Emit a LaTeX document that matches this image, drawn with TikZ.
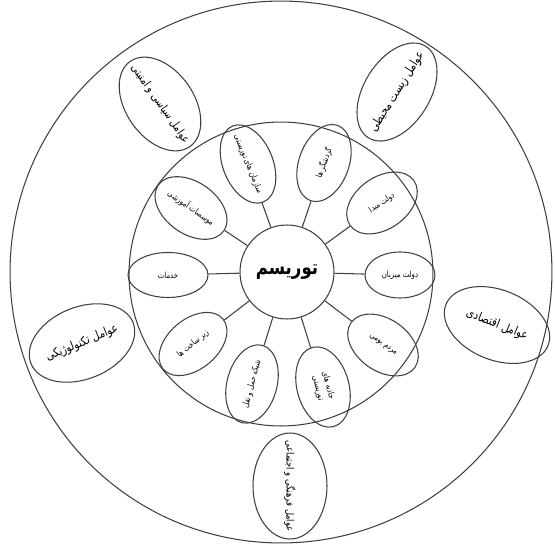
\documentclass[tikz,border=0pt]{standalone}
\usepackage{fontspec}
\usepackage{graphicx}
\usepackage{tikz}
\usetikzlibrary{shapes.geometric, positioning}
\newfontfamily\fa[Script=Arabic]{DejaVu Sans}
\TeXXeTstate=1
\newcommand{\fatxt}[1]{{\fa\scalebox{0.82}[1]{\beginR #1\endR}}}

\tikzset{
    vong/.style={draw=black!75, line width=0.6pt},
    oval/.style={ellipse, draw=black!75, line width=0.6pt, inner sep=0pt,
        font=\fontsize{4.8}{5.8}\selectfont},
}

\begin{document}
\begin{tikzpicture}[x=0.02cm, y=-0.02cm]
    \useasboundingbox (0,0) rectangle (555,545);
    
    % Hai vòng tròn lớn
    \node[vong, circle, minimum size=10.84cm, inner sep=0pt] (ngoai) at (281,272) {};
    \node[vong, circle, minimum size=6.08cm, inner sep=0pt] (trong) at (281,274) {};
    
    % Nút trung tâm
    \node[vong, circle, minimum size=1.88cm, inner sep=0pt, font=\fontsize{11.5}{13}\selectfont\bfseries]
        (tour) at (287,272) {\makebox[0pt]{\fatxt{توریسم}}};
    
    % Các elip bên trong và đường nối
    \foreach \n/\px/\py/\r/\w/\h/\t in {
        sazman/248/164/-68/82/50/{\fatxt{سازمان های توریستی}},
        gardesh/324/163/70/80/50/{\fatxt{گردشگر ها}},
        mabda/382/203/35/78/52/{\fatxt{دولت مبدا}},
        mizban/400/275/0/70/46/{\fatxt{دولت میزبان}},
        mardom/383/345/-35/78/52/{\fatxt{مردم بومی}},
        jazebe/323/387/-75/82/52/{\shortstack{\fatxt{جاذبه های}\\\fatxt{توریستی}}},
        haml/252/384/75/80/50/{\fatxt{شبکه حمل و نقل}},
        zir/193/344/40/78/50/{\fatxt{زیر ساخت ها}},
        khadamat/168/275/0/80/45/{\fatxt{خدمات}},
        moasesat/191/208/-35/80/52/{\fatxt{موسسات آموزشی}}} {
        \node[oval, rotate=\r, minimum width=\w*0.02cm, minimum height=\h*0.02cm]
            (\n) at (\px,\py) {\makebox[0pt]{\t}};
        \draw[vong] (tour) -- (\n);
    }
    
    % Các elip bên ngoài
    \foreach \n/\px/\py/\r/\w/\h/\f/\t in {
        siasi/160/104/-55/104/68/6.6/{\fatxt{عوامل سیاسی و امنیتی}},
        zist/397/92/58/108/66/7/{\fatxt{عوامل زیست محیطی}},
        eghtesad/497/325/-22/110/70/7/{\fatxt{عوامل اقتصادی}},
        fanni/82/343/22/110/72/7/{\fatxt{عوامل تکنولوژیکی}},
        farhang/290/486/-90/106/74/5.8/{\fatxt{عوامل فرهنگی و اجتماعی}}} {
        \node[oval, rotate=\r, minimum width=\w*0.02cm, minimum height=\h*0.02cm,
            font=\fontsize{\f}{\f}\selectfont] (\n) at (\px,\py) {\makebox[0pt]{\t}};
    }
\end{tikzpicture}
\end{document}
